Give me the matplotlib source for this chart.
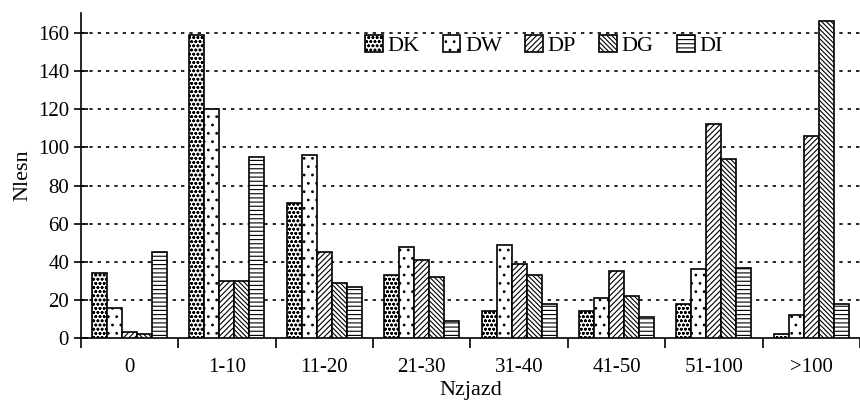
import numpy as np
import matplotlib
matplotlib.use("Agg")
import matplotlib.pyplot as plt

plt.rcParams['font.family'] = ['Liberation Serif', 'DejaVu Serif']
plt.rcParams['hatch.linewidth'] = 0.8

categories = ['0', '1-10', '11-20', '21-30', '31-40', '41-50', '51-100', '>100']
series_names = ['DK', 'DW', 'DP', 'DG', 'DI']
DK = [34, 159, 71, 33, 14, 14, 18, 2]
DW = [16, 120, 96, 48, 49, 21, 36, 12]
DP = [3, 30, 45, 41, 39, 35, 112, 106]
DG = [2, 30, 29, 32, 33, 22, 94, 166]
DI = [45, 95, 27, 9, 18, 11, 37, 18]
yticks = [0, 20, 40, 60, 80, 100, 120, 140, 160]

hatches = ['oooo', '..', '//////', '\\\\\\\\\\\\\\', '----']

fig = plt.figure(figsize=(8.6, 4.03), dpi=100)
ax = fig.add_axes([0.094, 0.161, 0.906, 0.807])

x = np.arange(len(categories))
w = 0.154
data = [DK, DW, DP, DG, DI]
for i, (name, vals) in enumerate(zip(series_names, data)):
    ax.bar(x + (i - 2) * w, vals, width=w, color='white', edgecolor='black',
           linewidth=1.2, hatch=hatches[i], label=name, zorder=3)

# grid
for yv in yticks[1:]:
    ax.axhline(yv, color='black', linestyle=(0, (2, 3)), linewidth=1.2, zorder=1)

ax.set_xlim(-0.5, len(categories) - 0.5)
ax.set_ylim(0, 170.5)
ax.set_yticks(yticks)
ax.set_yticklabels([str(v) for v in yticks], fontsize=15)
ax.tick_params(axis='y', direction='inout', length=10, width=1.2)

ax.set_xticks(x)
ax.set_xticklabels(categories, fontsize=15)
ax.tick_params(axis='x', length=0, pad=14)
ax.set_xticks(np.arange(len(categories) + 1) - 0.5, minor=True)
ax.tick_params(axis='x', which='minor', direction='out', length=7, width=1.2)

for s in ['top', 'right']:
    ax.spines[s].set_visible(False)
for s in ['left', 'bottom']:
    ax.spines[s].set_linewidth(1.2)

ax.set_ylabel('Nlesn', fontsize=16, labelpad=4)
ax.set_xlabel('Nzjazd', fontsize=16, labelpad=3)

ax.legend(loc='center', bbox_to_anchor=(0.594, 0.90), ncol=5, frameon=False,
          fontsize=16, handlelength=0.8, handleheight=0.8, handletextpad=0.2,
          columnspacing=1.05)

fig.savefig('out.png', dpi=100)
